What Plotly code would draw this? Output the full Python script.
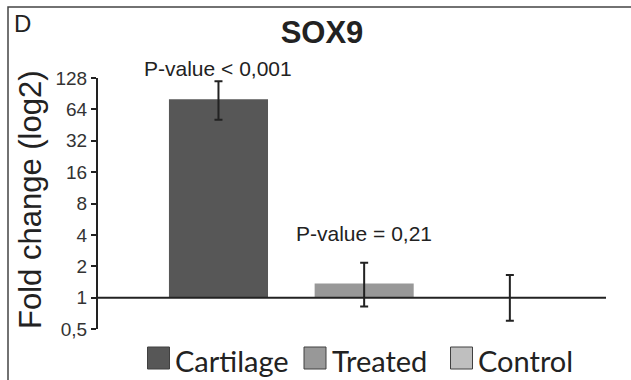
import plotly.graph_objects as go

# ---- data ----
categories = ["Cartilage", "Treated", "Control"]
fold_change = [80, 1.37, 1.0]
err_upper = [119, 2.16, 1.65]   # top of error bar
err_lower = [51, 0.82, 0.60]    # bottom of error bar
bar_colors = ["#575757", "#989898", "#bfbfbf"]
p_labels = ["P-value < 0,001", "P-value = 0,21", ""]
tick_vals = [0.5, 1, 2, 4, 8, 16, 32, 64, 128]
tick_text = ["0,5", "1", "2", "4", "8", "16", "32", "64", "128"]
baseline = 1

W, H = 631, 380
L, R, T, B = 98, 25, 78, 51
pw, ph = W - L - R, H - T - B

def px_x(x):
    return (x - L) / pw

def px_y(y):
    return (H - B - y) / ph

xs = list(range(len(categories)))
fig = go.Figure()
fig.add_trace(go.Bar(
    x=xs,
    y=[v - baseline for v in fold_change],
    base=[baseline] * len(categories),
    width=0.68,
    marker=dict(color=bar_colors, line=dict(width=0)),
    error_y=dict(
        type="data", symmetric=False,
        array=[u - v for u, v in zip(err_upper, fold_change)],
        arrayminus=[v - l for v, l in zip(fold_change, err_lower)],
        color="#222222", thickness=2, width=4,
    ),
    showlegend=False,
))

font_main = "Arial"

annotations = []
for i, t in enumerate(p_labels):
    if not t:
        continue
    ypos = px_y(68) if i == 0 else px_y(233)
    annotations.append(dict(x=xs[i], y=ypos, xref="x", yref="paper", text=t,
                            showarrow=False, xanchor="center", yanchor="middle",
                            font=dict(family=font_main, size=21, color="#222222")))

annotations.append(dict(x=px_x(30), y=px_y(200), xref="paper", yref="paper",
                        text="Fold change (log2)", textangle=-90, showarrow=False,
                        xanchor="center", yanchor="middle",
                        font=dict(family=font_main, size=31, color="#222222")))
annotations.append(dict(x=px_x(12), y=px_y(24), xref="paper", yref="paper",
                        text="D", showarrow=False, xanchor="left", yanchor="middle",
                        font=dict(family=font_main, size=24, color="#222222")))

shapes = [
    dict(type="line", xref="paper", yref="y", x0=0, x1=1, y0=baseline, y1=baseline,
         line=dict(color="#222222", width=2)),
    dict(type="rect", xref="paper", yref="paper", x0=px_x(8), x1=px_x(700),
         y0=px_y(500), y1=px_y(7), line=dict(color="#444444", width=1.5)),
]

# custom legend
leg_sq_x = [147.5, 304, 450.5]
leg_tx_x = [173, 330, 476]
for c, col, sx, tx in zip(categories, bar_colors, leg_sq_x, leg_tx_x):
    shapes.append(dict(type="rect", xref="paper", yref="paper",
                       x0=px_x(sx), x1=px_x(sx + 22), y0=px_y(369), y1=px_y(347),
                       fillcolor=col, line=dict(color="#404040", width=1)))
    annotations.append(dict(x=px_x(tx), y=px_y(360), xref="paper", yref="paper",
                            text=c, showarrow=False, xanchor="left", yanchor="middle",
                            font=dict(family="Lato", size=29, color="#222222")))

fig.update_layout(
    width=W, height=H,
    margin=dict(l=L, r=R, t=T, b=B, pad=0),
    paper_bgcolor="white", plot_bgcolor="white",
    font=dict(family=font_main),
    title=dict(text="<b>SOX9</b>", x=322 / W, xanchor="center", y=1 - 32 / H,
               yanchor="middle", font=dict(family=font_main, size=31, color="#222222")),
    xaxis=dict(range=[-0.827, 2.66], showticklabels=False, showline=False,
               showgrid=False, zeroline=False, ticks=""),
    yaxis=dict(type="log", range=[-0.30103, 2.10721], tickvals=tick_vals, ticktext=tick_text,
               showline=True, linecolor="#222222", linewidth=2, ticks="outside",
               ticklen=5, tickwidth=2, tickcolor="#222222", showgrid=False, zeroline=False,
               tickfont=dict(family=font_main, size=19, color="#333333")),
    annotations=annotations,
    shapes=shapes,
)

fig.write_html("out.html")
